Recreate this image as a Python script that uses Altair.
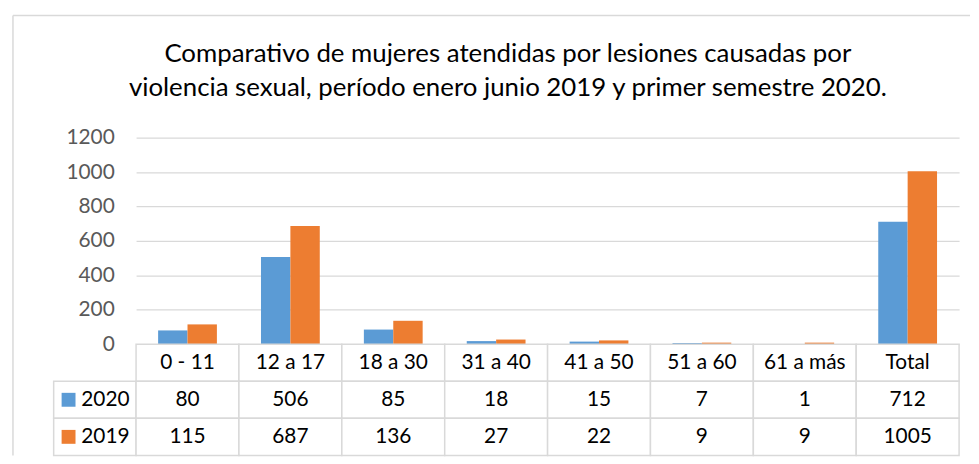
import altair as alt
import pandas as pd

categories = ["0 - 11", "12 a 17", "18 a 30", "31 a 40", "41 a 50", "51 a 60", "61 a más", "Total"]
series = ["2020", "2019"]
values_2020 = [80, 506, 85, 18, 15, 7, 1, 712]
values_2019 = [115, 687, 136, 27, 22, 9, 9, 1005]
y_ticks = [0, 200, 400, 600, 800, 1000, 1200]
colors = ["#5B9BD5", "#ED7D31"]
title_lines = [
    "Comparativo de mujeres atendidas por lesiones causadas por",
    "violencia sexual, período enero junio 2019 y primer semestre 2020.",
]

rows = []
for s, vals in zip(series, [values_2020, values_2019]):
    for c, v in zip(categories, vals):
        rows.append({"Category": c, "Series": s, "Value": v})
bars_df = pd.DataFrame(rows)

table_rows = ["hdr"] + series
cells = [{"Category": c, "Row": "hdr", "Label": c} for c in categories]
for s, vals in zip(series, [values_2020, values_2019]):
    for c, v in zip(categories, vals):
        cells.append({"Category": c, "Row": s, "Label": str(v)})
cells_df = pd.DataFrame(cells)
legend_df = pd.DataFrame({"Row": series, "Series": series})
one_df = pd.DataFrame({"a": [0]})

FONT = "Lato"
GRID = "#d9d9d9"

x_scale = alt.Scale(domain=categories, paddingInner=0, paddingOuter=0)
color_scale = alt.Scale(domain=series, range=colors)

bars = alt.Chart(bars_df).mark_bar().encode(
    x=alt.X("Category:N", sort=categories, scale=x_scale, axis=None),
    xOffset=alt.XOffset("Series:N", sort=series,
                        scale=alt.Scale(domain=series, paddingInner=0, paddingOuter=0.75)),
    y=alt.Y("Value:Q", scale=alt.Scale(domain=[0, 1200]),
            axis=alt.Axis(values=y_ticks, format="d", title=None, domain=False, ticks=False,
                          grid=True, gridColor=GRID, gridWidth=1.3, labelFont=FONT,
                          labelFontSize=21, labelColor="#595959", labelPadding=22)),
    color=alt.Color("Series:N", scale=color_scale, legend=None),
)

border_top = alt.Chart(one_df).mark_rule(color=GRID, strokeWidth=1.5).encode(
    x=alt.value(-124), x2=alt.value(840), y=alt.value(-123))
border_left = alt.Chart(one_df).mark_rule(color=GRID, strokeWidth=1.5).encode(
    x=alt.value(-124), y=alt.value(-123), y2=alt.value(320))

top = alt.layer(border_top, border_left, bars)

ty = alt.Scale(domain=table_rows, range=[208, 320], paddingInner=0, paddingOuter=0)
row_axis = alt.Axis(orient="left", title=None, domain=False, ticks=False, grid=False,
                    labelExpr="datum.value == 'hdr' ? '' : datum.value",
                    labelFont=FONT, labelFontSize=21, labelColor="black", labelPadding=7)
row_y = alt.Y("Row:N", sort=table_rows, scale=ty, axis=row_axis)

leg_cells = alt.Chart(legend_df).mark_rect(fill="white", stroke=GRID, strokeWidth=1.5).encode(
    x=alt.value(-83), x2=alt.value(0), y=row_y,
)
cell_rects = alt.Chart(cells_df).mark_rect(fill="white", stroke=GRID, strokeWidth=1.5).encode(
    x=alt.X("Category:N", sort=categories, scale=x_scale, axis=None),
    y=row_y,
)
cell_text = alt.Chart(cells_df).mark_text(font=FONT, fontSize=21, color="black").encode(
    x=alt.X("Category:N", sort=categories, scale=x_scale, axis=None),
    y=row_y,
    text="Label:N",
)
swatches = alt.Chart(legend_df).mark_square(size=196, opacity=1).encode(
    x=alt.value(-68),
    y=row_y,
    color=alt.Color("Series:N", scale=color_scale, legend=None),
)

table = alt.layer(leg_cells, cell_rects, cell_text, swatches)

chart = alt.layer(top, table).resolve_scale(y="independent").properties(
    width=829, height=208,
    title=alt.Title(title_lines, font=FONT, fontSize=26, fontWeight="normal", color="black",
                    anchor="middle", frame="group", dx=-40, offset=-87, lineHeight=34),
    padding={"left": 4, "top": 5, "right": 0, "bottom": 0},
).configure_view(stroke=None)

chart.save("out.html", embed_options={"renderer": "svg", "actions": False})
